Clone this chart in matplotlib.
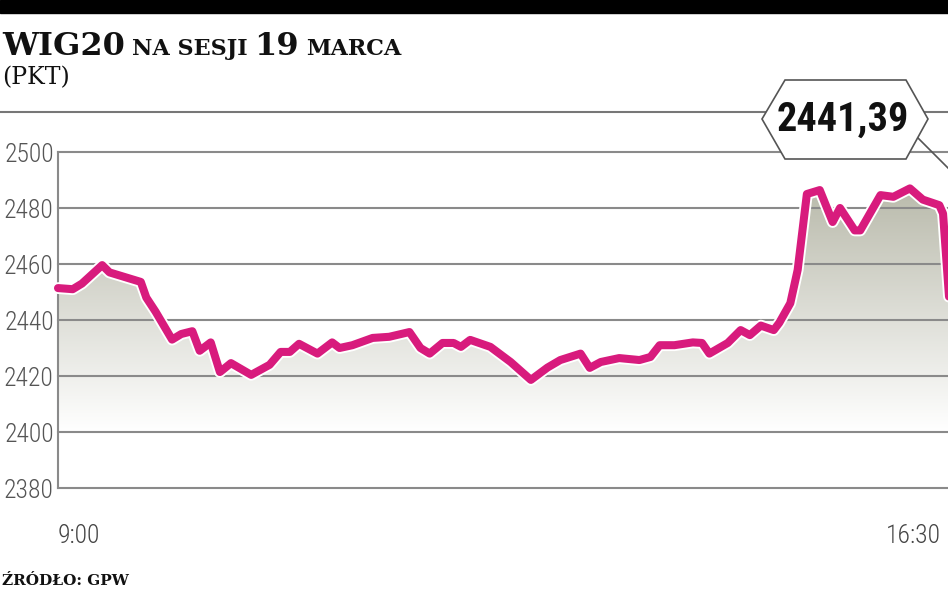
import numpy as np
import matplotlib
matplotlib.use('Agg')
import matplotlib.pyplot as plt
import matplotlib.patheffects as pe
from matplotlib.colors import LinearSegmentedColormap
from matplotlib.patches import Polygon, Rectangle
from matplotlib.lines import Line2D

# WIG20 intraday, minutes after 9:00 and index points
minutes = [0, 8, 13, 24, 28, 45, 48, 53, 62, 67, 73, 77, 83, 88, 94, 105, 115, 121,
           126, 131, 141, 149, 153, 160, 171, 180, 191, 197, 202, 209, 215, 219, 224,
           235, 246, 257, 266, 273, 284, 289, 295, 305, 316, 322, 327, 335, 345, 350,
           354, 364, 371, 376, 382, 389, 392, 398, 402, 407, 414, 421, 425, 433, 436,
           447, 454, 463, 470, 479, 481, 485]
points = [2451.4, 2451.0, 2453.0, 2459.6, 2457.0, 2453.6, 2448.0, 2443.0, 2433.0, 2435.0,
          2436.0, 2429.0, 2432.0, 2421.4, 2424.6, 2420.4, 2424.0, 2428.6, 2428.6, 2431.5,
          2428.0, 2432.0, 2430.0, 2431.0, 2433.6, 2434.0, 2435.7, 2430.0, 2428.0, 2431.8,
          2431.8, 2430.4, 2432.9, 2430.4, 2425.0, 2418.6, 2423.0, 2425.7, 2428.0, 2422.9,
          2425.0, 2426.4, 2425.7, 2426.8, 2431.0, 2431.0, 2432.0, 2431.8, 2428.0, 2431.8,
          2436.4, 2434.6, 2438.0, 2436.4, 2439.0, 2446.0, 2457.9, 2485.0, 2486.4, 2475.0,
          2480.0, 2472.0, 2472.0, 2484.6, 2484.0, 2487.0, 2483.0, 2481.0, 2478.0, 2441.39]
y_ticks = [2380, 2400, 2420, 2440, 2460, 2480, 2500]
x_ticks = [0, 450]
x_labels = ['9:00', '16:30']
close_label = '2441,39'

W, H = 948, 593
LINE = '#d81b7d'
GRID = '#8a8a8a'
NARROW = ['Liberation Sans Narrow', 'DejaVu Sans Condensed', 'Roboto Condensed', 'Roboto']
SERIF = ['DejaVu Serif']


def fx(x):
    return x / W


def fy(y):
    return 1 - y / H


fig = plt.figure(figsize=(W / 100, H / 100), dpi=100)
fig.patch.set_facecolor('white')
r = fig.canvas.get_renderer()


def fit_size(s, width, maxsize, **kw):
    # font size that makes s about `width` px wide, capped at maxsize
    t = fig.text(0, 0, s, fontsize=20, **kw)
    w = t.get_window_extent(r).width
    t.remove()
    return min(maxsize, 20 * width / w)


# axes: 9:00 at px 58, 1.84 px per minute, runs off the right edge
ax = fig.add_axes([fx(58), fy(488), 920 / W, 336 / H])
ax.set_xlim(0, 920 / 1.84)
ax.set_ylim(2380, 2500)
ax.set_facecolor('none')
for s in ['top', 'right', 'bottom']:
    ax.spines[s].set_visible(False)
ax.spines['left'].set_color(GRID)
ax.spines['left'].set_linewidth(1.5)

# gradient fill under the line
fill = ax.fill_between(minutes, points, 2380, facecolor='none', edgecolor='none')
yy = np.linspace(2380, 2500, 256)
grad = np.clip((yy - 2400) / 88, 0, 1).reshape(-1, 1)
cmap = LinearSegmentedColormap.from_list('shade', ['white', '#b9baab'])
im = ax.imshow(grad, extent=[0, 500, 2380, 2500], origin='lower', aspect='auto',
               cmap=cmap, vmin=0, vmax=1, zorder=1)
im.set_clip_path(fill.get_paths()[0], ax.transData)

for v in y_ticks:
    ax.axhline(v, color=GRID, lw=1.5, zorder=2, clip_on=False)

ax.plot(minutes, points, color=LINE, lw=5.8, zorder=4, solid_joinstyle='round',
        solid_capstyle='round', clip_on=False,
        path_effects=[pe.Stroke(linewidth=8.5, foreground='white'), pe.Normal()])

ytick_size = fit_size('2500', 50, 19, family=NARROW, weight='light')
xtick_size = fit_size('16:30', 55, ytick_size, family=NARROW, weight='light')
ax.set_yticks(y_ticks)
ax.set_yticklabels([str(v) for v in y_ticks], family=NARROW, weight='light',
                   fontsize=ytick_size, color='#555555')
ax.tick_params(axis='y', length=0, pad=3)
ax.set_xticks(x_ticks)
ax.set_xticklabels(x_labels, family=NARROW, weight='light', fontsize=xtick_size,
                   color='#444444', ha='left')
ax.tick_params(axis='x', length=0, pad=26)

# top black band and separator
fig.add_artist(Rectangle((0, fy(13)), 1, 13 / H, transform=fig.transFigure,
                         color='black', zorder=5))
fig.add_artist(Line2D([0, 1], [fy(112), fy(112)], transform=fig.transFigure,
                      color='#777777', lw=1.5, zorder=3))

# title pieces, small caps imitation
x = 2
parts = [('WIG20', 23, 7), ('NA SESJI', 16, 7), ('19', 23, 7), ('MARCA', 16, 0)]
for s, size, gap in parts:
    t = fig.text(fx(x), fy(55), s, fontsize=size, family=SERIF, weight='bold',
                 va='baseline', ha='left', color='#111111')
    x += t.get_window_extent(r).width + gap
fig.text(fx(2), fy(84), '(PKT)', fontsize=17, family=SERIF, va='baseline',
         ha='left', color='#111111')
fig.text(fx(2), fy(585), 'ŹRÓDŁO: GPW', fontsize=11, family=SERIF, weight='bold',
         va='baseline', ha='left', color='#111111')

# closing value label
hexpts = [(762, 119), (785, 80), (906, 80), (928, 119), (906, 159), (785, 159)]
fig.add_artist(Polygon([(fx(a), fy(b)) for a, b in hexpts], closed=True,
                       transform=fig.transFigure, facecolor='white',
                       edgecolor='#555555', lw=1.2, zorder=6))
fig.add_artist(Line2D([fx(918), fx(978)], [fy(138), fy(198)], transform=fig.transFigure,
                      color='#555555', lw=1.2, zorder=6))
close_size = fit_size(close_label, 132, 32, family=NARROW, weight='bold')
fig.text(fx(843), fy(120), close_label, fontsize=close_size, family=NARROW, weight='bold',
         va='center', ha='center', color='#111111', zorder=7)

fig.savefig('out.png', dpi=100)
